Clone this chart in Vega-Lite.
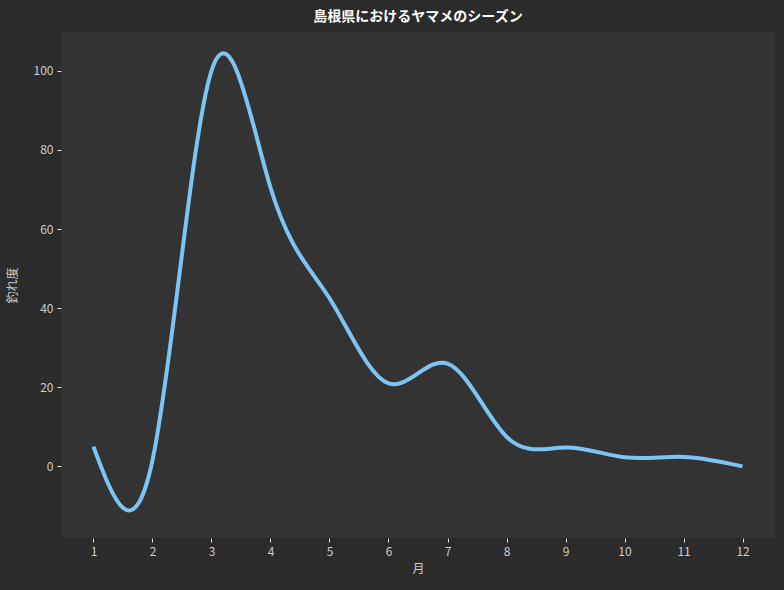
{
  "$schema": "https://vega.github.io/schema/vega-lite/v6.json",
  "width": 714,
  "height": 506,
  "autosize": {"type": "none"},
  "padding": {"left": 61, "top": 32, "right": 9, "bottom": 52},
  "background": "#2b2b2b",
  "title": {
    "text": "島根県におけるヤマメのシーズン",
    "font": "Noto Sans CJK JP",
    "fontSize": 14,
    "fontWeight": "bold",
    "color": "#ffffff",
    "anchor": "middle",
    "offset": 8
  },
  "config": {
    "view": {"fill": "#333333", "stroke": null},
    "axis": {
      "domain": false,
      "grid": false,
      "tickColor": "#dddddd",
      "tickSize": 4,
      "labelColor": "#cccccc",
      "labelFont": "Noto Sans CJK JP",
      "labelFontSize": 12,
      "titleFont": "Noto Sans CJK JP",
      "titleFontSize": 12,
      "titleFontWeight": "normal",
      "titleColor": "#cccccc"
    }
  },
  "data": {
    "values": [
      {"month": 1, "score": 5},
      {"month": 2, "score": 1.5},
      {"month": 3, "score": 100},
      {"month": 4, "score": 70.5},
      {"month": 5, "score": 42.5},
      {"month": 6, "score": 21},
      {"month": 7, "score": 26},
      {"month": 8, "score": 7.5},
      {"month": 9, "score": 4.8},
      {"month": 10, "score": 2.3},
      {"month": 11, "score": 2.4},
      {"month": 12, "score": 0}
    ]
  },
  "mark": {"type": "line", "interpolate": "natural", "color": "#7cc4f4", "strokeWidth": 4, "strokeCap": "butt"},
  "encoding": {
    "x": {
      "field": "month",
      "type": "quantitative",
      "title": "月",
      "scale": {"domain": [0.45, 12.55], "nice": false, "zero": false},
      "axis": {"values": [1,2,3,4,5,6,7,8,9,10,11,12], "labelPadding": 4, "titlePadding": 6}
    },
    "y": {
      "field": "score",
      "type": "quantitative",
      "title": "釣れ度",
      "scale": {"domain": [-18.1, 109.8], "nice": false, "zero": false},
      "axis": {"values": [0, 20, 40, 60, 80, 100], "labelPadding": 4, "titlePadding": 14}
    }
  }
}
